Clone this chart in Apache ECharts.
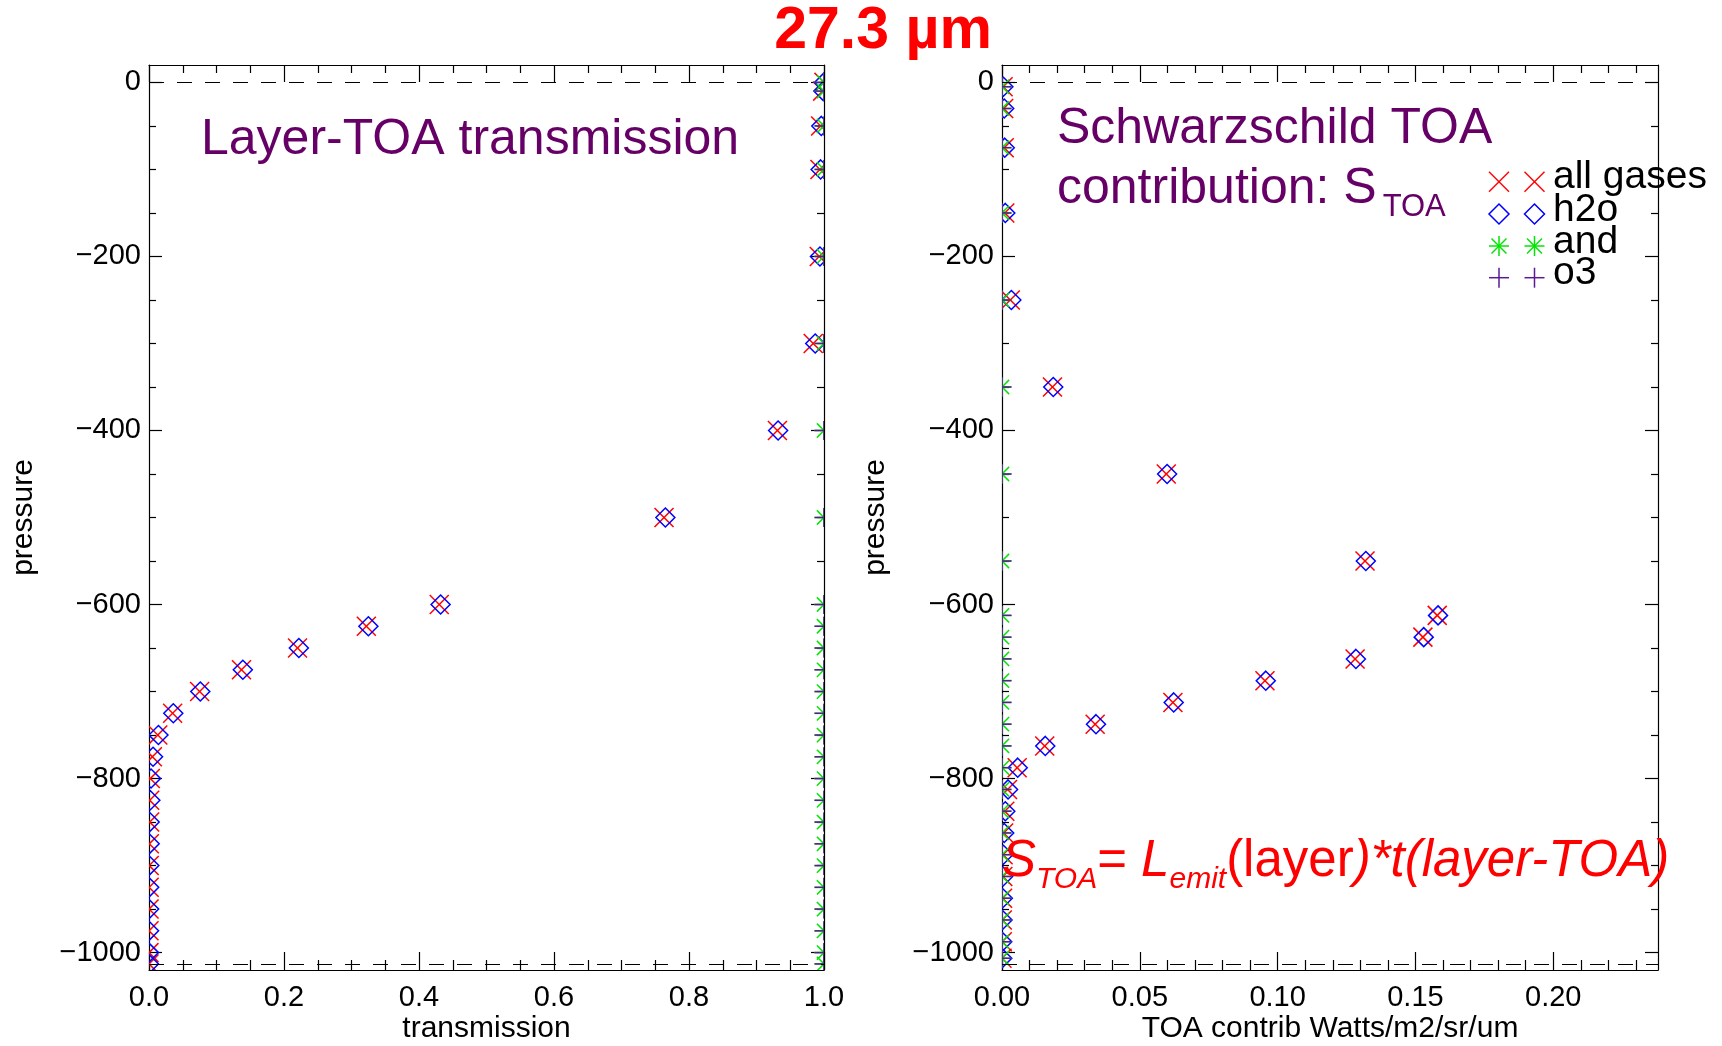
<!DOCTYPE html>
<html>
<head>
<meta charset="utf-8">
<title>27.3 µm</title>
<script src="https://cdn.jsdelivr.net/npm/echarts@6/dist/echarts.min.js"></script>
<style>
  html, body { margin: 0; padding: 0; background: #fff; }
  #main { width: 1722px; height: 1046px; }
</style>
</head>
<body>
<div id="main"></div>
<script>
var FONT = '"Liberation Sans", Arial, Helvetica, sans-serif';

// levels of the transmission panel (pressure, drawn negative)
var levels = [0, -10, -50, -100, -200, -300, -400, -500, -600, -625, -650, -675, -700,
  -725, -750, -775, -800, -825, -850, -875, -900, -925, -950, -975, -1000, -1013];
var transAll = [1.0, 0.998, 0.995, 0.994, 0.993, 0.984, 0.931, 0.763, 0.430, 0.322, 0.220, 0.137, 0.075,
  0.035, 0.013, 0.005, 0.002, 0.001, 0.001, 0.0005, 0.0003, 0.0002, 0.0001, 0, 0, 0];
var transH2o = [1.0, 0.999, 0.996, 0.995, 0.994, 0.987, 0.932, 0.765, 0.432, 0.325, 0.222, 0.139, 0.076,
  0.036, 0.014, 0.006, 0.003, 0.002, 0.001, 0.001, 0.0005, 0.0003, 0.0002, 0.0001, 0, 0];
var transAnd = [1, 1, 1, 1, 1, 1, 1, 1, 1, 1, 1, 1, 1, 1, 1, 1, 1, 1, 1, 1, 1, 1, 1, 1, 1, 1];
var transO3 = [1, 1, 1, 1, 1, 1, 1, 1, 1, 1, 1, 1, 1, 1, 1, 1, 1, 1, 1, 1, 1, 1, 1, 1, 1, 1];

// layer mid points of the Schwarzschild panel
var layers = [-5, -30, -75, -150, -250, -350, -450, -550, -612.5, -637.5, -662.5, -687.5, -712.5,
  -737.5, -762.5, -787.5, -812.5, -837.5, -862.5, -887.5, -912.5, -937.5, -962.5, -987.5, -1006.5];
var stoaAll = [0.0004, 0.0006, 0.0008, 0.0010, 0.0030, 0.0183, 0.0596, 0.1317, 0.1579, 0.1527, 0.1281, 0.0954, 0.0620,
  0.0338, 0.0155, 0.0055, 0.0020, 0.0010, 0.0006, 0.0004, 0.0003, 0.0002, 0.0001, 0.0001, 0];
var stoaH2o = [0.0005, 0.0008, 0.0010, 0.0012, 0.0034, 0.0186, 0.0599, 0.1320, 0.1582, 0.1530, 0.1284, 0.0957, 0.0623,
  0.0341, 0.0157, 0.0057, 0.0022, 0.0012, 0.0008, 0.0005, 0.0004, 0.0003, 0.0002, 0.0001, 0.0001];
var stoaAnd = [0, 0, 0, 0, 0, 0, 0, 0, 0, 0, 0, 0, 0, 0, 0, 0, 0, 0, 0, 0, 0, 0, 0, 0, 0];
var stoaO3 = [0, 0, 0, 0, 0, 0, 0, 0, 0, 0, 0, 0, 0, 0, 0, 0, 0, 0, 0, 0, 0, 0, 0, 0, 0];

var pressureTicks = [0, -200, -400, -600, -800, -1000];
var transTicks = [0, 0.2, 0.4, 0.6, 0.8, 1.0];
var stoaTicks = [0, 0.05, 0.10, 0.15, 0.20];
var refLevels = [0, -1013];   // dashed TOA / surface lines

var gasNames = ['all gases', 'h2o', 'and', 'o3'];
var gasColors = ['#ff0000', '#0000ff', '#00e600', '#5a1a96'];
var gasMarks = ['x', 'diamond', 'asterisk', 'plus'];

var P_MIN = -1020, P_MAX = 20, T_MAX = 1.0, S_MAX = 0.238;

function minorTicks(majors, step, lo, hi) {
  var out = [];
  for (var k = Math.round(lo / step); k <= Math.round(hi / step); k++) {
    var v = +(k * step).toFixed(6);
    var isMajor = majors.some(function (t) { return Math.abs(t - v) < step / 10; });
    if (!isMajor) out.push(v);
  }
  return out;
}
var pressureMinor = minorTicks(pressureTicks, 50, -1000, 0);
var transMinor = minorTicks(transTicks, 0.05, 0, 1);
var stoaMinor = minorTicks(stoaTicks, 0.01, 0, 0.23);

// IDL style plot symbols
function markShapes(kind, cx, cy, h, color, lw) {
  function L(x1, y1, x2, y2) {
    return { type: 'line', shape: { x1: x1, y1: y1, x2: x2, y2: y2 }, style: { stroke: color, lineWidth: lw, fill: 'none' } };
  }
  if (kind === 'x') return [L(cx - h, cy - h, cx + h, cy + h), L(cx - h, cy + h, cx + h, cy - h)];
  if (kind === 'plus') return [L(cx - h, cy, cx + h, cy), L(cx, cy - h, cx, cy + h)];
  if (kind === 'asterisk') {
    var d = h * 0.75;
    return [L(cx - d, cy - d, cx + d, cy + d), L(cx - d, cy + d, cx + d, cy - d),
      L(cx - h, cy, cx + h, cy), L(cx, cy - h, cx, cy + h)];
  }
  return [{ type: 'polygon', shape: { points: [[cx, cy - h], [cx + h, cy], [cx, cy + h], [cx - h, cy]] },
    style: { stroke: color, lineWidth: lw, fill: 'none' } }];
}

function gasSeries(axisIdx, gi, xs, ys, withRef) {
  var s = {
    type: 'custom',
    name: gasNames[gi],
    xAxisIndex: axisIdx,
    yAxisIndex: axisIdx,
    clip: true,
    silent: true,
    data: ys.map(function (p, i) { return [xs[i], p]; }),
    renderItem: function (params, api) {
      var c = api.coord([api.value(0), api.value(1)]);
      return { type: 'group', children: markShapes(gasMarks[gi], c[0], c[1], 9.5, gasColors[gi], 1.5) };
    }
  };
  if (withRef) {
    s.markLine = {
      silent: true,
      symbol: ['none', 'none'],
      label: { show: false },
      lineStyle: { color: '#000', width: 1.2, type: [15, 13] },
      data: refLevels.map(function (v) { return { yAxis: v }; })
    };
  }
  return s;
}

function axis(o) {
  return {
    type: 'value',
    gridIndex: o.grid,
    position: o.pos,
    min: o.min,
    max: o.max,
    silent: true,
    axisLine: { show: !!o.line, onZero: false, lineStyle: { color: '#000', width: 1.2 } },
    axisTick: { show: true, inside: true, length: o.len, customValues: o.ticks, lineStyle: { color: '#000', width: 1.2 } },
    axisLabel: o.fmt ? { show: true, customValues: o.ticks, formatter: o.fmt, color: '#000',
      fontSize: 29, fontFamily: FONT, margin: o.margin } : { show: false },
    splitLine: { show: false },
    minorTick: { show: false },
    name: o.name || '',
    nameLocation: 'middle',
    nameGap: o.gap || 0,
    nameRotate: o.rot || 0,
    nameMoveOverlap: false,
    nameTextStyle: { color: '#000', fontSize: 30, fontFamily: FONT }
  };
}

var fmtT = function (v) { return v.toFixed(1); };
var fmtS = function (v) { return v.toFixed(2); };
var fmtP = function (v) { return v === 0 ? '0' : '\u2212' + Math.abs(v); };

var gridL = { left: 149, top: 65, width: 675, height: 905 };
var gridR = { left: 1002, top: 65, width: 656, height: 905 };

var xAxes = [
  axis({ grid: 0, pos: 'bottom', min: 0, max: T_MAX, ticks: transTicks, len: 18, line: true, fmt: fmtT, margin: 13, name: 'transmission', gap: 44 }),
  axis({ grid: 0, pos: 'top', min: 0, max: T_MAX, ticks: transTicks, len: 17, line: true }),
  axis({ grid: 1, pos: 'bottom', min: 0, max: T_MAX, ticks: transMinor, len: 10 }),
  axis({ grid: 1, pos: 'top', min: 0, max: T_MAX, ticks: transMinor, len: 8 }),
  axis({ grid: 2, pos: 'bottom', min: 0, max: S_MAX, ticks: stoaTicks, len: 18, line: true, fmt: fmtS, margin: 13, name: 'TOA contrib Watts/m2/sr/um', gap: 44 }),
  axis({ grid: 2, pos: 'top', min: 0, max: S_MAX, ticks: stoaTicks, len: 17, line: true }),
  axis({ grid: 3, pos: 'bottom', min: 0, max: S_MAX, ticks: stoaMinor, len: 10 }),
  axis({ grid: 3, pos: 'top', min: 0, max: S_MAX, ticks: stoaMinor, len: 8 })
];
var yAxes = [
  axis({ grid: 0, pos: 'left', min: P_MIN, max: P_MAX, ticks: pressureTicks, len: 13, line: true, fmt: fmtP, margin: 8, name: 'pressure', gap: 110, rot: 90 }),
  axis({ grid: 0, pos: 'right', min: P_MIN, max: P_MAX, ticks: pressureTicks, len: 13, line: true }),
  axis({ grid: 1, pos: 'left', min: P_MIN, max: P_MAX, ticks: pressureMinor, len: 7 }),
  axis({ grid: 1, pos: 'right', min: P_MIN, max: P_MAX, ticks: pressureMinor, len: 7 }),
  axis({ grid: 2, pos: 'left', min: P_MIN, max: P_MAX, ticks: pressureTicks, len: 13, line: true, fmt: fmtP, margin: 8, name: 'pressure', gap: 111, rot: 90 }),
  axis({ grid: 2, pos: 'right', min: P_MIN, max: P_MAX, ticks: pressureTicks, len: 13, line: true }),
  axis({ grid: 3, pos: 'left', min: P_MIN, max: P_MAX, ticks: pressureMinor, len: 7 }),
  axis({ grid: 3, pos: 'right', min: P_MIN, max: P_MAX, ticks: pressureMinor, len: 7 })
];

function gridOf(g) {
  return { left: g.left, top: g.top, width: g.width, height: g.height, containLabel: false, outerBoundsMode: 'none' };
}

var series = [
  gasSeries(0, 0, transAll, levels, true),
  gasSeries(0, 1, transH2o, levels, false),
  gasSeries(0, 2, transAnd, levels, false),
  gasSeries(0, 3, transO3, levels, false),
  gasSeries(4, 0, stoaAll, layers, true),
  gasSeries(4, 1, stoaH2o, layers, false),
  gasSeries(4, 2, stoaAnd, layers, false),
  gasSeries(4, 3, stoaO3, layers, false)
];

// text runs with sub scripts, placed piece by piece on a baseline
var measure = document.createElement('canvas').getContext('2d');
function textRun(x, base, pieces, color, align) {
  var els = [];
  pieces.forEach(function (p) {
    var style = p.italic ? 'italic' : 'normal';
    var weight = p.bold ? 'bold' : 'normal';
    measure.font = style + ' ' + weight + ' ' + p.size + 'px ' + FONT;
    var w = measure.measureText(p.t).width;
    x += (p.dx || 0);
    els.push({
      type: 'text', x: x, y: base + (p.dy || 0) - 0.35 * p.size, z: 100, silent: true,
      style: { text: p.t, fill: color, fontSize: p.size, fontFamily: FONT, fontStyle: style, fontWeight: weight,
        align: align || 'left', verticalAlign: 'middle' }
    });
    x += w;
  });
  return els;
}

var purple = '#660066';
var graphics = [];
graphics = graphics.concat(textRun(883, 52, [{ t: '27.3 \u00b5m', size: 59, bold: true }], '#ff0000', 'center'));
graphics = graphics.concat(textRun(201, 158, [{ t: 'Layer-TOA transmission', size: 50 }], purple));
graphics = graphics.concat(textRun(1057, 147, [{ t: 'Schwarzschild TOA', size: 50 }], purple));
graphics = graphics.concat(textRun(1057, 207, [{ t: 'contribution: S', size: 50 }, { t: 'TOA', size: 31, dy: 11, dx: 6 }], purple));
graphics = graphics.concat(textRun(1002, 880, [
  { t: 'S', size: 51, italic: true },
  { t: 'TOA', size: 30, italic: true, dy: 10 },
  { t: '= ', size: 51 },
  { t: 'L', size: 51, italic: true },
  { t: 'emit', size: 30, italic: true, dy: 10 },
  { t: '(layer', size: 51 },
  { t: ')*t(layer-TOA)', size: 51, italic: true }
], '#ff0000'));

// legend: two symbols then the name, IDL style
var legendRows = [181.7, 214, 246, 277.7];
gasNames.forEach(function (name, i) {
  var y = legendRows[i];
  [1499, 1534.5].forEach(function (x) {
    graphics.push({ type: 'group', z: 100, silent: true, children: markShapes(gasMarks[i], x, y, 10, gasColors[i], 1.5) });
  });
  graphics = graphics.concat(textRun(1553, y + 9.5, [{ t: name, size: 39 }], '#000'));
});

var chart = echarts.init(document.getElementById('main'), null, { renderer: 'canvas' });
chart.setOption({
  animation: false,
  backgroundColor: '#fff',
  grid: [gridOf(gridL), gridOf(gridL), gridOf(gridR), gridOf(gridR)],
  xAxis: xAxes,
  yAxis: yAxes,
  series: series,
  graphic: { elements: graphics }
});
</script>
</body>
</html>
